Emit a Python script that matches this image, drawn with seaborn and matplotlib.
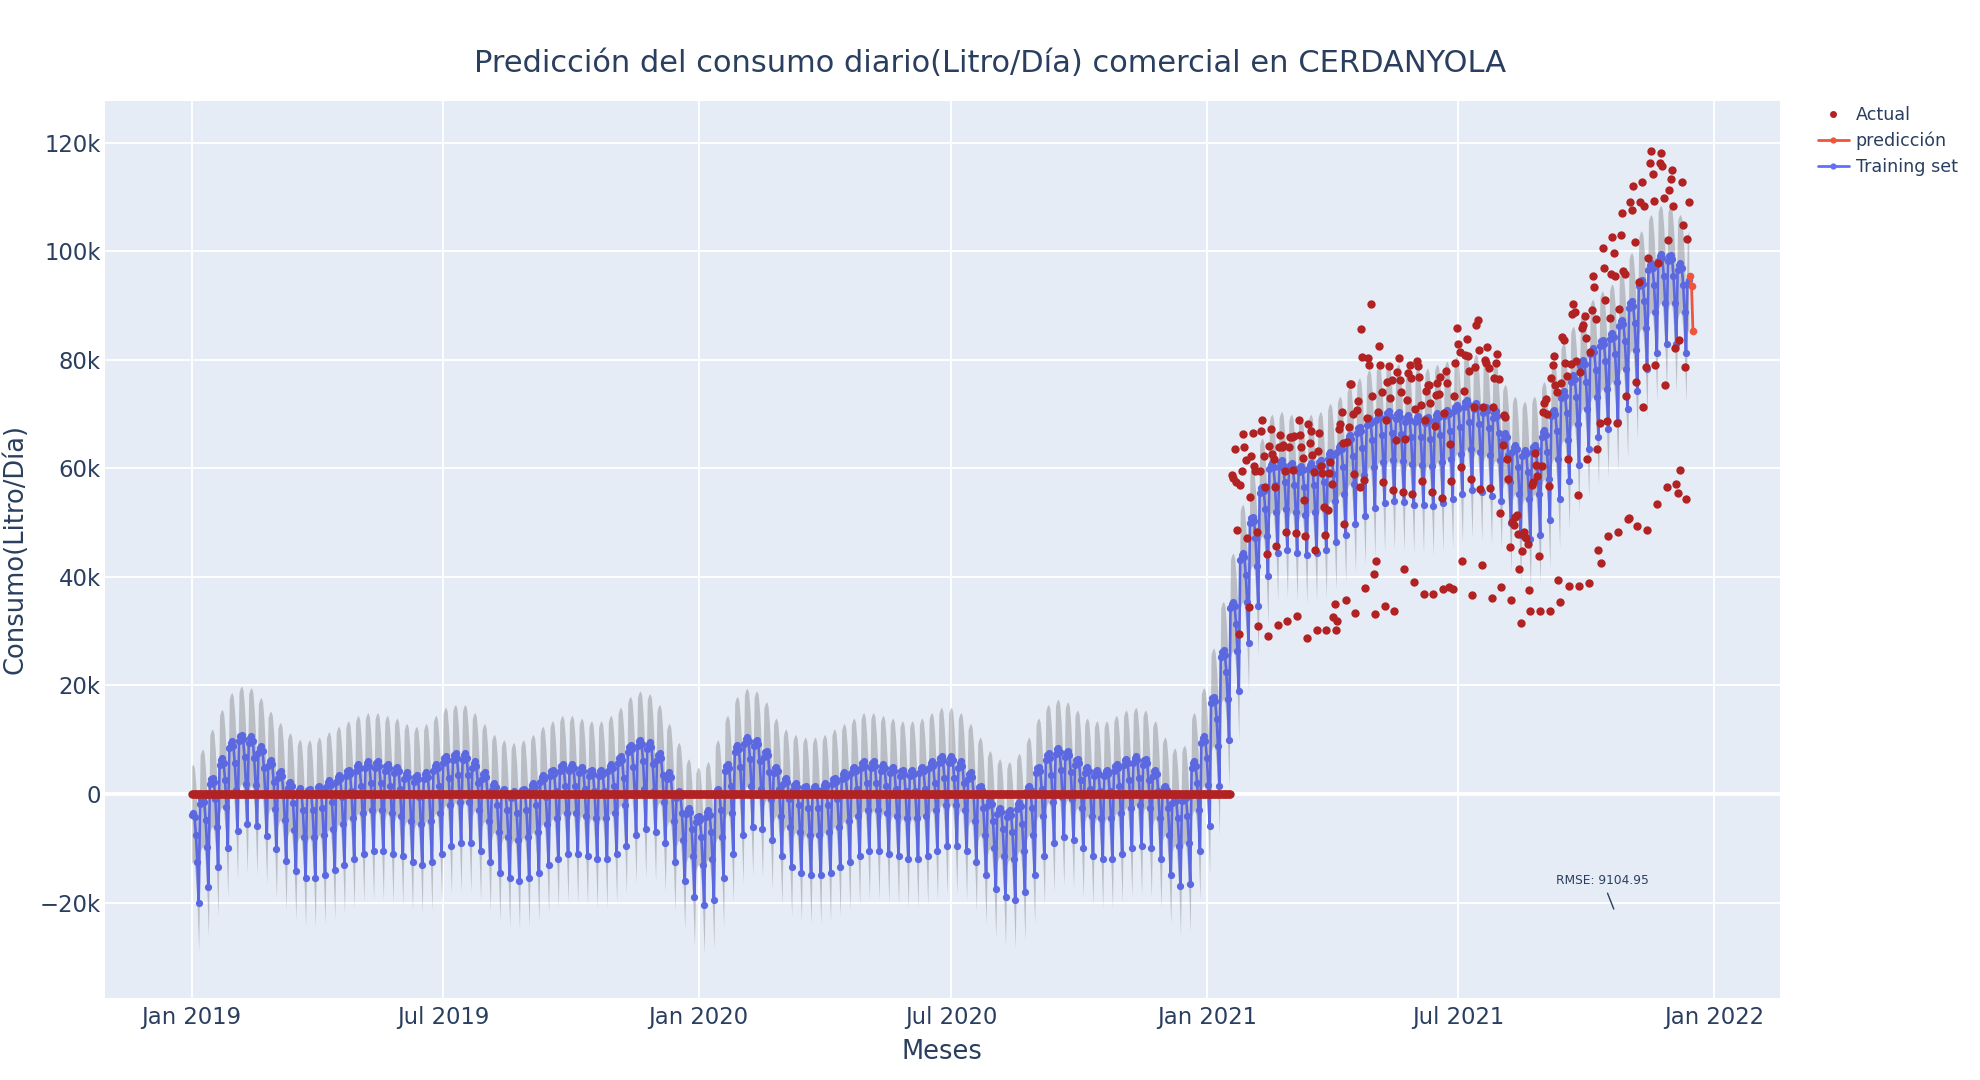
import numpy as np
import pandas as pd
import matplotlib
matplotlib.use("Agg")
import matplotlib.pyplot as plt
from matplotlib.lines import Line2D
from matplotlib.ticker import FuncFormatter, MultipleLocator
import matplotlib.dates as mdates
import seaborn as sns

# ---------------- text ----------------
title = "Predicción del consumo diario(Litro/Día) comercial en CERDANYOLA"
x_label = "Meses"
y_label = "Consumo(Litro/Día)"
rmse_text = "RMSE: 9104.95"
legend_labels = ["Actual", "predicción", "Training set"]

# ---------------- data (thousands of litres/day) ----------------
train_start = "2019-01-01"
train_end = "2021-12-14"
week_origin = "2018-12-31"  # Monday of the first week
# weekly top (weekday) level of the fitted training-set curve
train_week_top = [
    -3.5, -0.7, 3.0, 6.6, 9.7, 10.9, 10.6, 8.8, 6.3, 4.2, 2.3, 1.1, 1.0, 1.5, 2.5, 3.5,
    4.5, 5.5, 6.0, 6.0, 5.5, 5.0, 4.0, 3.5, 4.0, 5.5, 7.0, 7.5, 7.5, 6.0, 4.0, 2.0,
    1.0, 0.5, 1.0, 2.0, 3.5, 4.5, 5.5, 5.5, 5.0, 4.5, 4.5, 5.5, 7.0, 9.0, 10.0, 9.5,
    7.5, 4.0, 0.5, -2.5, -4.0, -3.0, 1.0, 5.5, 9.0, 10.5, 10.0, 8.0, 5.0, 3.0, 2.0, 1.5,
    1.5, 2.0, 3.0, 4.0, 5.0, 6.0, 6.0, 5.5, 5.0, 4.5, 4.5, 5.0, 6.0, 7.0, 7.0, 6.0,
    4.0, 1.5, -1.0, -2.5, -3.0, -1.5, 1.5, 5.0, 7.5, 8.5, 8.0, 6.5, 5.0, 4.5, 4.5, 5.5,
    6.5, 7.0, 6.5, 4.5, 1.5, -0.5, 0.0, 6.0, 10.6, 17.9, 26.5, 35.4, 44.4, 51.1, 56.6, 61.0,
    61.5, 61.0, 60.5, 61.0, 61.5, 63.0, 64.3, 66.2, 67.7, 69.2, 70.2, 70.5, 70.3, 69.8, 69.7, 69.5,
    70.2, 70.8, 71.7, 72.6, 72.1, 71.4, 70.5, 66.5, 64.3, 63.4, 64.3, 67.0, 70.8, 74.2, 77.2, 80.0,
    82.2, 83.7, 85.0, 87.4, 90.8, 94.8, 97.8, 99.5, 99.4, 97.8, 95.1,
]
# weekly pattern of the fit, Monday..Sunday, relative to the weekly top
train_dow_offset = [-1.2, -0.3, 0.0, -0.8, -4.0, -9.0, -16.5]
band_half_width = 9.0

actual_zero_start = "2019-01-01"
actual_zero_end = "2021-01-17"
actual_2021_start = "2021-01-18"
# one row per week, Monday..Sunday
actual_2021_weeks = [
    [0.0, 58.8, 58.2, 63.5, 57.5, 48.6, 29.5],
    [56.9, 59.6, 66.3, 63.9, 61.5, 47.1, 34.5],
    [54.8, 62.3, 66.6, 60.5, 59.6, 48.3, 30.9],
    [59.6, 66.9, 68.9, 62.3, 56.6, 44.3, 29.2],
    [64.1, 67.3, 62.6, 61.8, 56.6, 45.7, 31.1],
    [63.9, 66.2, 64.0, 64.3, 59.6, 48.3, 31.9],
    [64.0, 65.7, 65.8, 59.7, 66.0, 48.1, 32.8],
    [69.0, 66.2, 64.0, 62.0, 54.2, 47.5, 28.8],
    [68.1, 64.6, 66.9, 62.5, 59.4, 44.9, 30.3],
    [63.2, 66.6, 60.5, 59.2, 52.9, 47.7, 30.3],
    [52.3, 59.2, 61.1, 57.2, 32.7, 35.0, 30.3],
    [31.9, 67.3, 68.2, 70.3, 64.6, 49.8, 35.8],
    [64.9, 67.7, 75.5, 75.6, 70.0, 59.0, 33.4],
    [70.8, 72.5, 56.5, 85.7, 80.6, 57.8, 38.0],
    [69.2, 80.3, 79.1, 90.3, 73.4, 40.6, 33.2],
    [42.9, 70.3, 82.6, 79.1, 74.0, 57.5, 34.6],
    [68.9, 76.0, 78.8, 72.9, 76.2, 56.1, 33.8],
    [65.2, 77.7, 80.3, 76.2, 74.0, 55.7, 41.4],
    [65.4, 72.6, 77.5, 79.0, 76.6, 55.3, 39.0],
    [71.0, 79.7, 78.8, 76.9, 71.7, 57.7, 36.9],
    [69.0, 74.2, 75.4, 75.3, 72.0, 55.7, 36.9],
    [67.8, 73.5, 75.7, 73.7, 76.8, 54.5, 37.7],
    [70.2, 78.0, 75.8, 38.2, 64.5, 57.7, 37.8],
    [73.4, 79.5, 85.8, 83.0, 81.5, 60.2, 42.9],
    [74.3, 80.9, 83.8, 80.7, 78.0, 58.0, 36.6],
    [71.4, 78.6, 86.5, 87.3, 81.8, 56.2, 42.2],
    [71.3, 80.0, 79.4, 82.3, 78.5, 56.3, 36.1],
    [71.3, 76.6, 79.4, 81.0, 76.4, 51.8, 38.2],
    [64.3, 69.8, 69.5, 61.8, 58.0, 45.5, 35.8],
    [50.2, 49.5, 51.1, 51.4, 48.0, 41.4, 31.5],
    [44.8, 48.3, 47.4, 47.1, 46.0, 37.5, 33.8],
    [56.9, 57.5, 62.9, 60.7, 58.6, 43.9, 33.7],
    [60.4, 70.3, 72.0, 72.8, 70.0, 56.7, 33.8],
    [76.6, 79.1, 80.7, 75.4, 74.0, 39.4, 35.4],
    [75.8, 84.3, 83.7, 79.4, 77.0, 61.7, 38.3],
    [79.2, 88.5, 90.3, 88.9, 79.7, 55.1, 38.3],
    [77.8, 85.8, 86.5, 88.1, 84.0, 61.7, 38.9],
    [81.4, 89.2, 95.4, 93.4, 87.6, 63.5, 44.9],
    [68.4, 42.6, 100.6, 97.0, 91.0, 68.8, 47.5],
    [87.8, 95.8, 102.7, 99.6, 95.5, 68.3, 48.3],
    [89.4, 103.0, 107.0, 96.4, 95.8, 73.4, 50.6],
    [50.9, 109.1, 107.6, 112.0, 101.8, 75.9, 49.4],
    [94.3, 109.1, 112.8, 71.4, 108.3, 78.6, 48.7],
    [98.8, 116.3, 118.5, 114.3, 109.3, 79.0, 53.4],
    [97.8, 116.3, 118.1, 115.8, 109.9, 75.4, 56.5],
    [102.0, 111.3, 113.4, 115.0, 108.3, 82.2, 57.1],
    [55.4, 83.7, 59.7, 112.7, 104.8, 78.6, 54.3],
    [102.2, 109.0],
]

pred_dates = ["2021-12-15", "2021-12-16", "2021-12-17"]
pred_values = [95.5, 93.7, 85.4]

# ---------------- build tables ----------------
train_ds = pd.date_range(train_start, train_end, freq="D")
week_idx = ((train_ds - pd.Timestamp(week_origin)).days // 7).to_numpy()
dow_idx = train_ds.dayofweek.to_numpy()
yhat = (np.array(train_week_top)[week_idx] + np.array(train_dow_offset)[dow_idx]) * 1000
train_df = pd.DataFrame({"ds": train_ds, "yhat": yhat,
                         "lower": yhat - band_half_width * 1000,
                         "upper": yhat + band_half_width * 1000})

zero_ds = pd.date_range(actual_zero_start, actual_zero_end, freq="D")
vals_2021 = [v for wk in actual_2021_weeks for v in wk]
ds_2021 = pd.date_range(actual_2021_start, periods=len(vals_2021), freq="D")
actual_df = pd.DataFrame({
    "ds": list(zero_ds) + list(ds_2021),
    "y": [0.0] * len(zero_ds) + [v * 1000 for v in vals_2021],
})
pred_df = pd.DataFrame({"ds": pd.to_datetime(pred_dates),
                        "y": [v * 1000 for v in pred_values]})

# ---------------- style ----------------
sns.set_theme(style="darkgrid", rc={
    "axes.facecolor": "#E5ECF6",
    "figure.facecolor": "white",
    "grid.color": "white",
    "grid.linewidth": 1.3,
})
plt.rcParams["font.family"] = ["DejaVu Sans"]

TEXT = "#2a3f5f"
BLUE = "#5c68e0"
RED = "#b22222"
ORANGE = "#ef553b"

fig = plt.figure(figsize=(19.8, 10.8), dpi=100)
ax = fig.add_axes([104.8 / 1980, 1 - 997.5 / 1080, (1780 - 104.8) / 1980, (997.5 - 101) / 1080])
ax.set_axisbelow(True)
ax.axhline(0, color="white", lw=2.8, zorder=0.6)

ax.fill_between(train_df["ds"], train_df["lower"], train_df["upper"],
                color="#808080", alpha=0.42, lw=0, zorder=1)
sns.lineplot(data=train_df, x="ds", y="yhat", ax=ax, color=BLUE, lw=1.9,
             marker="o", markersize=5.2, markeredgewidth=0, estimator=None,
             sort=False, zorder=2, legend=False)
sns.scatterplot(data=actual_df, x="ds", y="y", ax=ax, color=RED, s=36,
                linewidth=0, zorder=3, legend=False)
sns.lineplot(data=pred_df, x="ds", y="y", ax=ax, color=ORANGE, lw=2,
             marker="o", markersize=5.5, markeredgewidth=0, estimator=None,
             zorder=4, legend=False)

t0 = pd.Timestamp(train_start)
ax.set_xlim(t0 - pd.Timedelta(days=62.6), t0 + pd.Timedelta(days=1143.7))
ax.set_ylim(-37500, 127700)

ax.yaxis.set_major_locator(MultipleLocator(20000))
def kfmt(v, pos):
    if abs(v) < 1e-6:
        return "0"
    s = f"{int(round(abs(v) / 1000))}k"
    return ("\u2212" + s) if v < 0 else s
ax.yaxis.set_major_formatter(FuncFormatter(kfmt))
ax.xaxis.set_major_locator(mdates.MonthLocator(bymonth=[1, 7]))
ax.xaxis.set_major_formatter(mdates.DateFormatter("%b %Y"))
ax.tick_params(axis="both", length=0, labelsize=16.4, colors=TEXT)
ax.tick_params(axis="x", pad=6)
ax.tick_params(axis="y", pad=3)
ax.grid(True, color="white", lw=1.3)
for sp in ax.spines.values():
    sp.set_visible(False)
ax.set_xlabel("")
ax.set_ylabel("")

fig.text(0.5, 1 - 63 / 1080, title, ha="center", va="center", fontsize=22, color=TEXT)
fig.text((104.8 + 1780) / 2 / 1980, 1 - 1052 / 1080, x_label, ha="center", va="center",
         fontsize=18.5, color=TEXT)
fig.text(16 / 1980, 1 - 549 / 1080, y_label, ha="center", va="center", rotation=90,
         fontsize=18.5, color=TEXT)

ax.annotate(rmse_text, xy=(pd.Timestamp("2021-10-21"), -21200),
            xytext=(pd.Timestamp("2021-10-13"), -16000),
            ha="center", va="center", fontsize=8.8, color=TEXT,
            arrowprops=dict(arrowstyle="-", color=TEXT, lw=1, shrinkA=2, shrinkB=0))

handles = [
    Line2D([], [], color=RED, marker="o", lw=0, markersize=5, markeredgewidth=0),
    Line2D([], [], color=ORANGE, marker="o", lw=2, markersize=4.5, markeredgewidth=0),
    Line2D([], [], color="#636efa", marker="o", lw=2, markersize=4.5, markeredgewidth=0),
]
fig.legend(handles, legend_labels, loc="upper left",
           bbox_to_anchor=(1818 / 1980, 1 - 106 / 1080), frameon=False,
           fontsize=12.6, handlelength=1.75, handletextpad=0.4, labelspacing=0.45,
           borderaxespad=0, borderpad=0, labelcolor=TEXT)

fig.savefig("out.png", dpi=100)
